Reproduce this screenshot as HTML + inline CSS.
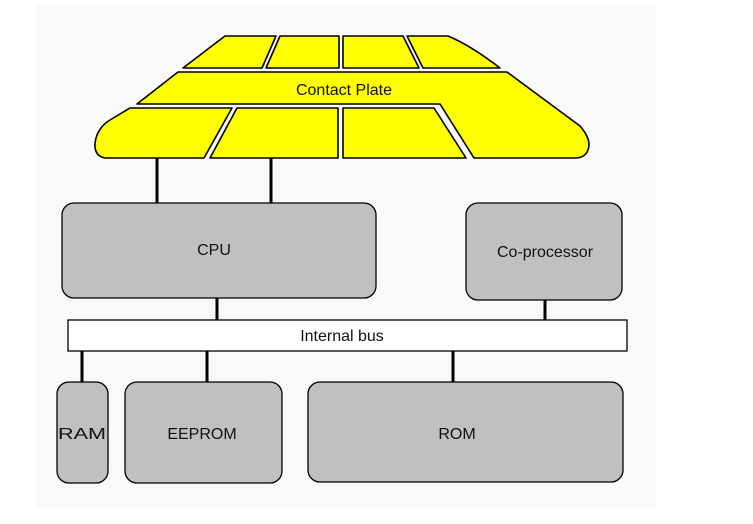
<!DOCTYPE html>
<html><head><style>
body{margin:0;background:#fff;}
svg{display:block}
text{font-family:"Liberation Sans",Arial,sans-serif;font-size:16px;fill:#111}
</style></head><body>
<svg width="753" height="524" viewBox="0 0 753 524">
<rect width="753" height="524" fill="#fff"/>
<rect x="36" y="5" width="620" height="503" fill="#f9f9f9"/>
<g fill="#ffff00" stroke="#000" stroke-width="1.6" stroke-linejoin="round">
<path d="M225,36 L276,36 L262,68 L183,68 Z"/>
<path d="M280,36 L339,36 L339,68 L266,68 Z"/>
<path d="M343,36 L403,36 L419,68 L343,68 Z"/>
<path d="M407,36 L448,36 Q470,45 500,68 L423,68 Z"/>
<path d="M178,72 L507,72 L580,126 Q592,140 588,150 Q585,158 575,158 L474,158 L440,104 L137,104 Z"/>
<path d="M130,108 L232,108 L204,158 L105,158 Q94,156 95,143 Q97,128 110,120 Z"/>
<path d="M237,108 L338,108 L338,158 L210,158 Z"/>
<path d="M343,108 L434,108 L466,158 L343,158 Z"/>
</g>
<text x="344" y="95" text-anchor="middle">Contact Plate</text>
<g stroke="#000" stroke-width="3">
<line x1="157" y1="158" x2="157" y2="203"/>
<line x1="271" y1="158" x2="271" y2="203"/>
<line x1="217" y1="298" x2="217" y2="320"/>
<line x1="545" y1="300" x2="545" y2="320"/>
<line x1="82" y1="351" x2="82" y2="382"/>
<line x1="207" y1="351" x2="207" y2="382"/>
<line x1="453" y1="351" x2="453" y2="382"/>
</g>
<g fill="#c0c0c0" stroke="#000" stroke-width="1.3">
<rect x="62" y="203" width="314" height="95" rx="12"/>
<rect x="466" y="203" width="156" height="97" rx="12"/>
<rect x="57" y="382" width="51" height="101" rx="12"/>
<rect x="125" y="382" width="157" height="101" rx="12"/>
<rect x="308" y="382" width="315" height="100" rx="12"/>
</g>
<rect x="68" y="320" width="559" height="31" fill="#fff" stroke="#000" stroke-width="1.3"/>
<text x="214" y="255" text-anchor="middle">CPU</text>
<text x="545" y="257" text-anchor="middle">Co-processor</text>
<text x="342" y="341" text-anchor="middle">Internal bus</text>
<text x="82" y="439" text-anchor="middle" textLength="48" lengthAdjust="spacingAndGlyphs">RAM</text>
<text x="202" y="439" text-anchor="middle">EEPROM</text>
<text x="457" y="439" text-anchor="middle">ROM</text>
</svg>
</body></html>
